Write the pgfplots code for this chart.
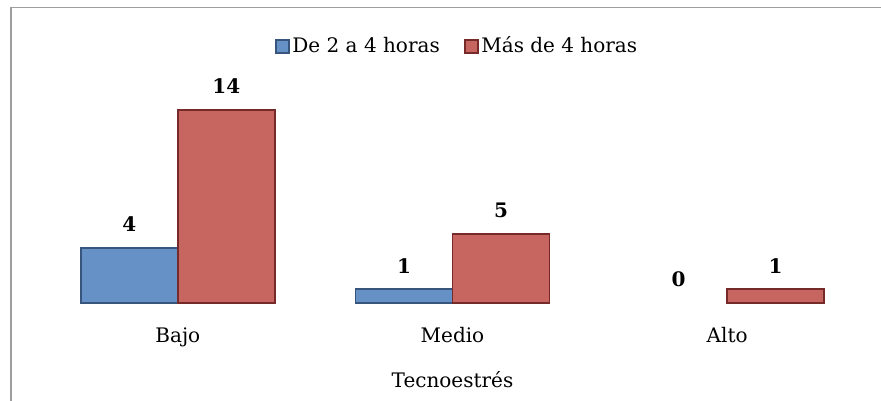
\documentclass[border=0pt]{standalone}
\usepackage{fontspec}
\setmainfont{DejaVu Serif}
\usepackage{pgfplots}
\pgfplotsset{compat=1.18}
\definecolor{bfill}{RGB}{102,145,199}
\definecolor{bdraw}{RGB}{55,85,125}
\definecolor{rfill}{RGB}{199,101,97}
\definecolor{rdraw}{RGB}{118,42,42}
\begin{document}
\fontsize{20}{24}\selectfont
\begin{tikzpicture}[x=1pt,y=1pt]
\path[use as bounding box] (0,0) rectangle (881,-401);
\draw[black!38, line width=1.2pt] (11,-401) -- (11,-7.5) -- (881,-7.5);
\begin{axis}[
  at={(40.5pt,-303pt)}, anchor=south west,
  scale only axis, width=824pt, height=220.8pt,
  xmin=-0.5, xmax=2.5, ymin=0, ymax=16,
  clip=false,
  ybar, bar width=97pt,
  axis line style={draw=none},
  major tick length=0pt,
  ytick=\empty,
  xtick={0,1,2},
  xticklabels={Bajo,Medio,Alto},
  xticklabel style={anchor=base, yshift=-39pt},
  xlabel={Tecnoestrés},
  xlabel style={at={(axis description cs:0.5,0)}, anchor=base, yshift=-84pt},
  /pgf/number format/assume math mode=true,
  every node near coord/.append style={font=\bfseries, anchor=center, yshift=23.5pt},
  legend columns=2,
  legend style={at={(0.5,1)}, anchor=center, yshift=35.7pt, xshift=5pt, draw=none, fill=none,
    nodes={inner sep=2.5pt}, /tikz/every even column/.append style={column sep=22pt}},
  legend image code/.code={\draw[#1, line width=1.6pt] (0pt,-6.5pt) rectangle (13pt,6.5pt);},
]
\addplot[fill=bfill, draw=bdraw, line width=1.8pt, bar shift=-48.5pt, nodes near coords] coordinates {(0,4) (1,1)};
\addplot[fill=rfill, draw=rdraw, line width=1.8pt, bar shift=48.5pt, nodes near coords] coordinates {(0,14) (1,5) (2,1)};
\addplot[draw=none, fill=none, bar shift=-48.5pt, nodes near coords, forget plot] coordinates {(2,0)};
\legend{De 2 a 4 horas, Más de 4 horas}
\end{axis}
\end{tikzpicture}
\end{document}
